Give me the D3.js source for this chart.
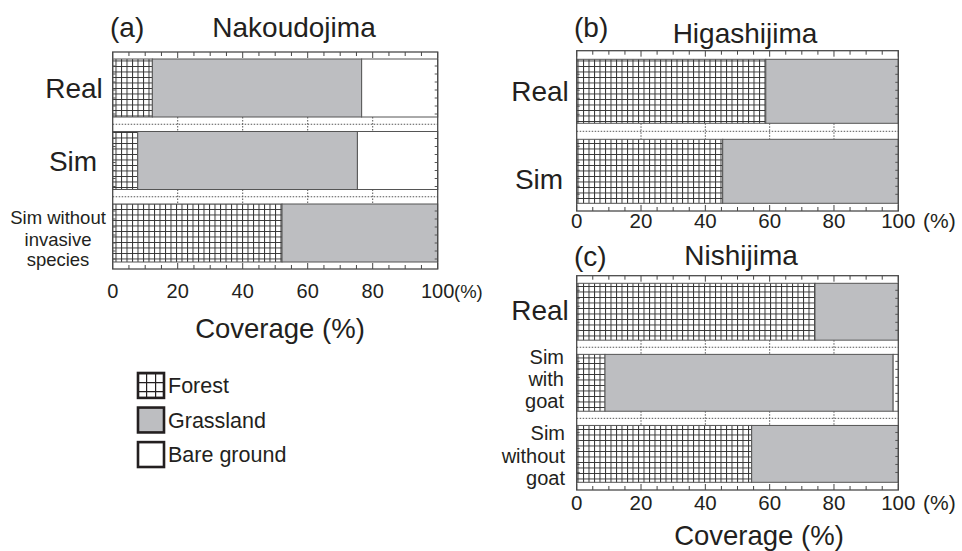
<!DOCTYPE html>
<html>
<head>
<meta charset="utf-8">
<script src="https://cdn.jsdelivr.net/npm/d3@7"></script>
<style>
  body { margin: 0; background: #fff; }
  text { font-family: "Liberation Sans", Arial, Helvetica, sans-serif; fill: #231f20; }
</style>
</head>
<body>
<svg id="chart" width="962" height="551"></svg>
<script>
// ---- data: land-cover percentages per island ----
const coverTypes = ["Forest", "Grassland", "Bare ground"];

const nakoCats   = ["Real", "Sim", "Sim without invasive species"];
const nakoForest = [12.2, 7.7, 52.1];
const nakoGrass  = [64.4, 67.6, 47.9];
const nakoBare   = [23.4, 24.7, 0];

const higaCats   = ["Real", "Sim"];
const higaForest = [58.8, 45.4];
const higaGrass  = [41.2, 54.6];
const higaBare   = [0, 0];

const nishiCats   = ["Real", "Sim with goat", "Sim without goat"];
const nishiForest = [74.1, 8.8, 54.4];
const nishiGrass  = [25.9, 89.6, 45.6];
const nishiBare   = [0, 1.6, 0];

const xTicks = [0, 20, 40, 60, 80, 100];
const xMinorTicks = d3.range(0, 101, 5);

// ---- styling ----
const grassColor = "#bdbec1";
const frameColor = "#4a4a4a";

const svg = d3.select("#chart");
const defs = svg.append("defs");

// crosshatch used for forest cover
const cell = 5.5;
const pat = defs.append("pattern")
  .attr("id", "forestGrid")
  .attr("patternUnits", "userSpaceOnUse")
  .attr("width", cell).attr("height", cell);
pat.append("rect").attr("width", cell).attr("height", cell).attr("fill", "#fff");
pat.append("path")
  .attr("d", `M0,0.5H${cell}M0.5,0V${cell}`)
  .attr("stroke", "#333").attr("stroke-width", 1).attr("fill", "none");

const legendPat = defs.append("pattern")
  .attr("id", "forestGridLegend")
  .attr("patternUnits", "userSpaceOnUse")
  .attr("x", 137).attr("y", 373)
  .attr("width", 9).attr("height", 9);
legendPat.append("rect").attr("width", 9).attr("height", 9).attr("fill", "#fff");
legendPat.append("path")
  .attr("d", "M0,0.5H9M0.5,0V9")
  .attr("stroke", "#231f20").attr("stroke-width", 1.4).attr("fill", "none");

const fills = { "Forest": "url(#forestGrid)", "Grassland": grassColor, "Bare ground": "#fff" };

const panels = [
  {
    tag: "(a)", name: "Nakoudojima",
    cats: nakoCats, forest: nakoForest, grass: nakoGrass, bare: nakoBare,
    x0: 112.7, x1: 437.7, top: 52, bottom: 269, barTop: 59, barBottom: 262,
    tagPos: [110, 37], namePos: [294, 37],
    tickY: 298, tickSize: 20, pctX: 454, pctSize: 18.5,
    axisTitle: { x: 280, y: 338 },
    labels: {
      "Real": { x: 74, anchor: "middle", size: 28, lines: ["Real"], dy: [10] },
      "Sim": { x: 73, anchor: "middle", size: 28, lines: ["Sim"], dy: [10] },
      "Sim without invasive species": { x: 58, anchor: "middle", size: 18.5,
        lines: ["Sim without", "invasive", "species"], dy: [-9, 13, 33] }
    }
  },
  {
    tag: "(b)", name: "Higashijima",
    cats: higaCats, forest: higaForest, grass: higaGrass, bare: higaBare,
    x0: 576.7, x1: 898.3, top: 50.7, bottom: 211, barTop: 59.3, barBottom: 203.3,
    tagPos: [574, 37], namePos: [745, 43],
    tickY: 228, tickSize: 20.5, pctX: 923, pctSize: 21,
    axisTitle: null,
    labels: {
      "Real": { x: 540, anchor: "middle", size: 28, lines: ["Real"], dy: [10] },
      "Sim": { x: 539, anchor: "middle", size: 28, lines: ["Sim"], dy: [18] }
    }
  },
  {
    tag: "(c)", name: "Nishijima",
    cats: nishiCats, forest: nishiForest, grass: nishiGrass, bare: nishiBare,
    x0: 576.7, x1: 898.3, top: 275.7, bottom: 490, barTop: 283.3, barBottom: 482.3,
    tagPos: [574, 266], namePos: [741, 265],
    tickY: 510, tickSize: 20.5, pctX: 923, pctSize: 21,
    axisTitle: { x: 759, y: 545 },
    labels: {
      "Real": { x: 540, anchor: "middle", size: 28, lines: ["Real"], dy: [8] },
      "Sim with goat": { x: 564, anchor: "end", size: 20,
        lines: ["Sim", "with", "goat"], dy: [-19, 3, 25] },
      "Sim without goat": { x: 565, anchor: "end", size: 20,
        lines: ["Sim", "without", "goat"], dy: [-14, 9, 31] }
    }
  }
];

panels.forEach(p => {
  const g = svg.append("g");
  const x = d3.scaleLinear().domain([0, 100]).range([p.x0, p.x1]);
  const y = d3.scaleBand().domain(p.cats)
    .range([p.barTop, p.barBottom])
    .paddingInner(0.2).paddingOuter(0);

  const rows = p.cats.map((c, i) => ({
    cat: c, "Forest": p.forest[i], "Grassland": p.grass[i], "Bare ground": p.bare[i]
  }));
  const series = d3.stack().keys(coverTypes)(rows);

  // white plot area
  g.append("rect")
    .attr("x", p.x0).attr("y", p.top)
    .attr("width", p.x1 - p.x0).attr("height", p.bottom - p.top)
    .attr("fill", "#fff");

  // dotted separators in the gaps between bars
  const gapMids = p.cats.slice(1).map(c => y(c) - y.step() * y.paddingInner() / 2);
  const gapH = y.step() * y.paddingInner();
  g.selectAll(".gapH").data(gapMids).join("line")
    .attr("x1", p.x0).attr("x2", p.x1)
    .attr("y1", d => d).attr("y2", d => d)
    .attr("stroke", "#555").attr("stroke-width", 1)
    .attr("stroke-dasharray", "1.5,1.5");
  gapMids.forEach(m => {
    g.selectAll(null).data(xTicks.slice(1, -1)).join("line")
      .attr("x1", d => x(d)).attr("x2", d => x(d))
      .attr("y1", m - gapH / 2).attr("y2", m + gapH / 2)
      .attr("stroke", "#555").attr("stroke-width", 1)
      .attr("stroke-dasharray", "1.5,1.5");
  });

  // stacked bars
  series.forEach(s => {
    g.selectAll(null).data(s.filter(d => d[1] - d[0] > 0)).join("rect")
      .attr("x", d => x(d[0]))
      .attr("y", d => y(d.data.cat))
      .attr("width", d => x(d[1]) - x(d[0]))
      .attr("height", y.bandwidth())
      .attr("fill", fills[s.key])
      .attr("stroke", "#555").attr("stroke-width", 1);
  });

  // small ticks along the left and right edges of each bar
  p.cats.forEach(c => {
    const ys = d3.range(y(c) + 7, y(c) + y.bandwidth() - 2, 8);
    g.selectAll(null).data(ys).join("path")
      .attr("d", d => `M${p.x0},${d}h3M${p.x1},${d}h-3`)
      .attr("stroke", "#555").attr("stroke-width", 1);
  });

  // top and bottom tick marks
  g.selectAll(null).data(xMinorTicks).join("path")
    .attr("d", d => {
      const len = d % 20 === 0 ? 6 : 4;
      return `M${x(d)},${p.top}v${len}M${x(d)},${p.bottom}v${-len}`;
    })
    .attr("stroke", "#444").attr("stroke-width", 1);

  // frame
  g.append("rect")
    .attr("x", p.x0).attr("y", p.top)
    .attr("width", p.x1 - p.x0).attr("height", p.bottom - p.top)
    .attr("fill", "none").attr("stroke", frameColor).attr("stroke-width", 1.3);

  // tick labels
  g.selectAll(null).data(xTicks).join("text")
    .attr("x", d => x(d)).attr("y", p.tickY)
    .attr("text-anchor", "middle")
    .attr("font-size", p.tickSize)
    .text(d => d);
  g.append("text")
    .attr("x", p.pctX).attr("y", p.tickY)
    .attr("font-size", p.pctSize)
    .text("(%)");

  if (p.axisTitle) {
    g.append("text")
      .attr("x", p.axisTitle.x).attr("y", p.axisTitle.y)
      .attr("text-anchor", "middle").attr("font-size", 27.5)
      .text("Coverage (%)");
  }

  // panel titles
  g.append("text").attr("x", p.tagPos[0]).attr("y", p.tagPos[1])
    .attr("font-size", 28).text(p.tag);
  g.append("text").attr("x", p.namePos[0]).attr("y", p.namePos[1])
    .attr("text-anchor", "middle").attr("font-size", 28).text(p.name);

  // category labels
  p.cats.forEach(c => {
    const L = p.labels[c];
    const cy = y(c) + y.bandwidth() / 2;
    L.lines.forEach((line, i) => {
      g.append("text")
        .attr("x", L.x).attr("y", cy + L.dy[i])
        .attr("text-anchor", L.anchor)
        .attr("font-size", L.size)
        .text(line);
    });
  });
});

// ---- legend ----
const legend = svg.append("g");
const legendY = d3.scaleBand().domain(coverTypes).range([373, 467]).paddingInner(0.28);
const legendFills = { "Forest": "url(#forestGridLegend)", "Grassland": grassColor, "Bare ground": "#fff" };
coverTypes.forEach(k => {
  legend.append("rect")
    .attr("x", 138).attr("y", legendY(k))
    .attr("width", 26).attr("height", legendY.bandwidth())
    .attr("fill", legendFills[k])
    .attr("stroke", "#231f20").attr("stroke-width", 2.6);
  legend.append("text")
    .attr("x", 168).attr("y", legendY(k) + legendY.bandwidth() / 2 + 7.5)
    .attr("font-size", 21.5)
    .text(k);
});
</script>
</body>
</html>
